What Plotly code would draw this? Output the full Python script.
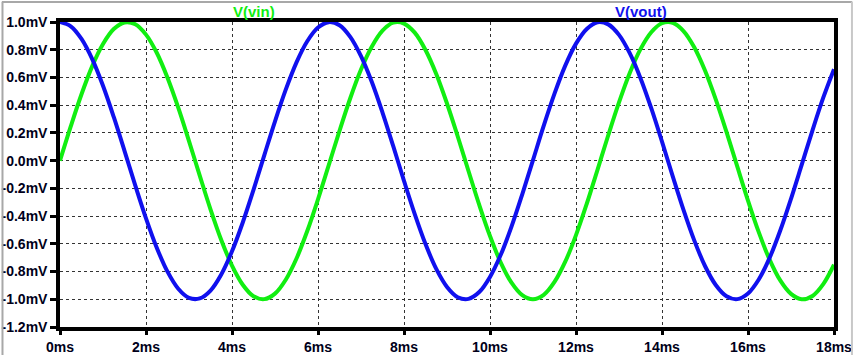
import plotly.graph_objects as go

# time in ms
t_ms = [i * 0.25 for i in range(73)]

# V(vin) in mV, every 0.25 ms
vin_mv = [
    0.000, 0.247, 0.479, 0.682, 0.841, 0.949, 0.997, 0.984, 0.909, 0.778,
    0.598, 0.382, 0.141, -0.108, -0.351, -0.572, -0.757, -0.895, -0.978, -0.999,
    -0.959, -0.859, -0.706, -0.508, -0.279, -0.033, 0.215, 0.450, 0.657, 0.822,
    0.938, 0.995, 0.989, 0.923, 0.798, 0.625, 0.412, 0.174, -0.075, -0.319,
    -0.544, -0.735, -0.880, -0.970, -1.000, -0.968, -0.875, -0.729, -0.537, -0.311,
    -0.066, 0.183, 0.420, 0.632, 0.804, 0.926, 0.991, 0.994, 0.935, 0.818,
    0.650, 0.442, 0.207, -0.042, -0.288, -0.516, -0.712, -0.864, -0.961, -1.000,
    -0.976, -0.891, -0.751,
]

# V(vout) in mV
vout_mv = [
    1.000, 0.969, 0.878, 0.732, 0.540, 0.315, 0.071, -0.178, -0.416, -0.628,
    -0.801, -0.924, -0.990, -0.994, -0.937, -0.821, -0.654, -0.446, -0.211, 0.038,
    0.284, 0.512, 0.709, 0.861, 0.960, 0.999, 0.977, 0.893, 0.754, 0.569,
    0.347, 0.104, -0.146, -0.386, -0.602, -0.781, -0.911, -0.985, -0.997, -0.948,
    -0.839, -0.679, -0.476, -0.243, 0.004, 0.252, 0.483, 0.685, 0.844, 0.950,
    0.998, 0.983, 0.907, 0.775, 0.595, 0.378, 0.137, -0.113, -0.355, -0.575,
    -0.760, -0.897, -0.978, -0.999, -0.958, -0.857, -0.703, -0.504, -0.275, -0.029,
    0.219, 0.454, 0.660,
]

y_ticks = [-1.2, -1.0, -0.8, -0.6, -0.4, -0.2, 0.0, 0.2, 0.4, 0.6, 0.8, 1.0]
y_labels = ["-1.2mV", "-1.0mV", "-0.8mV", "-0.6mV", "-0.4mV", "-0.2mV",
            "0.0mV", "0.2mV", "0.4mV", "0.6mV", "0.8mV", "1.0mV"]
x_ticks = [0, 2, 4, 6, 8, 10, 12, 14, 16, 18]
x_labels = ["0ms", "2ms", "4ms", "6ms", "8ms", "10ms", "12ms", "14ms", "16ms", "18ms"]

GREEN = "#11ee11"
BLUE = "#1010ee"
TXT = "#00001a"
FONT = "Liberation Sans, Arial, sans-serif"

fig = go.Figure()
fig.add_trace(go.Scatter(x=t_ms, y=vin_mv, mode="lines", name="V(vin)",
                         line=dict(color=GREEN, width=4, shape="spline")))
fig.add_trace(go.Scatter(x=t_ms, y=vout_mv, mode="lines", name="V(vout)",
                         line=dict(color=BLUE, width=4, shape="spline")))

axis_common = dict(
    showline=True, linecolor="black", linewidth=3.5, mirror=True,
    ticks="outside", tickwidth=3, tickcolor="black",
    showgrid=True, gridcolor="#333333", gridwidth=1, griddash="3px,3px",
    zeroline=False, automargin=False, ticklabelstandoff=0,
    tickfont=dict(family=FONT, size=14, color=TXT, weight="bold"),
)

fig.update_xaxes(range=[0, 18], tickvals=x_ticks, ticktext=x_labels,
                 ticklen=4, **axis_common)
fig.update_yaxes(range=[-1.2, 1.0], tickvals=y_ticks, ticktext=y_labels,
                 ticklen=6, **axis_common)

fig.add_annotation(text="<b>V(vin)</b>", x=0.2506, y=1.0, xref="paper", yref="paper",
                   xanchor="center", yanchor="middle", yshift=11, showarrow=False,
                   font=dict(family=FONT, size=15, color=GREEN))
fig.add_annotation(text="<b>V(vout)</b>", x=0.7506, y=1.0, xref="paper", yref="paper",
                   xanchor="center", yanchor="middle", yshift=11, showarrow=False,
                   font=dict(family=FONT, size=15, color=BLUE))

# light grey window border
fig.add_shape(type="line", xref="paper", yref="paper", x0=-0.075, x1=1.0235, y0=1.0656, y1=1.0656,
              line=dict(color="#a8a8a8", width=2))
fig.add_shape(type="line", xref="paper", yref="paper", x0=-0.0743, x1=-0.0743, y0=-0.1, y1=1.066,
              line=dict(color="#a8a8a8", width=2))
fig.add_shape(type="line", xref="paper", yref="paper", x0=1.0232, x1=1.0232, y0=-0.1, y1=1.066,
              line=dict(color="#c8c8c8", width=2))

fig.update_layout(
    autosize=True,
    margin=dict(l=60, r=22, t=22, b=28),
    paper_bgcolor="white", plot_bgcolor="white",
    showlegend=False,
    font=dict(family=FONT, size=14, color=TXT),
)

fig.write_html("out.html", config={"responsive": True})
